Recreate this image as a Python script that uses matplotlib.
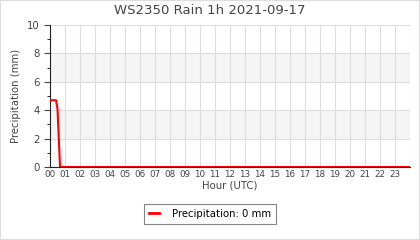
import numpy as np
import matplotlib
matplotlib.use("Agg")
import matplotlib.pyplot as plt
from matplotlib.patches import Rectangle

# rain readings (hours since midnight, mm)
hours = [0.0, 0.4, 0.5, 0.67, 24.0]
precip = [4.7, 4.7, 4.1, 0.0, 0.0]
hour_labels = [f"{h:02d}" for h in range(24)] + [""]
title = "WS2350 Rain 1h 2021-09-17"
legend_label = "Precipitation: 0 mm"

fig = plt.figure(figsize=(4.2, 2.4), dpi=100)
ax = fig.add_axes([50 / 420, 73 / 240, 360 / 420, 142 / 240])

# alternating bands
for lo in (2, 6):
    ax.axhspan(lo, lo + 2, color="#f5f5f5", zorder=0)

ax.plot(hours, precip, color="#ff0000", lw=1.5, label=legend_label, zorder=3)

ax.set_xlim(0, 24)
ax.set_ylim(0, 10)
ax.set_xticks(range(25))
ax.set_xticklabels(hour_labels, fontsize=6.3, color="#444444")
ax.set_yticks(range(0, 11, 2))
ax.set_yticks(range(1, 10, 2), minor=True)
ax.tick_params(axis="y", labelsize=7.3, colors="#444444", length=4, width=0.8)
ax.tick_params(axis="y", which="minor", length=2)
ax.tick_params(axis="x", which="both", length=0, pad=2)
ax.grid(True, which="major", color="#dddddd", lw=0.8)
ax.set_axisbelow(True)

for s in ("top", "right"):
    ax.spines[s].set_visible(False)
for s in ("left", "bottom"):
    ax.spines[s].set_color("#222222")
    ax.spines[s].set_linewidth(0.8)

fig.text(0.5, 1 - 11 / 240, title, fontsize=9.5, color="#444444",
         ha="center", va="center")
ax.set_xlabel("Hour (UTC)", fontsize=7.3, color="#444444", labelpad=1)
ax.set_ylabel("Precipitation (mm)", fontsize=7.3, color="#444444", labelpad=4)

leg = fig.legend(loc="center", bbox_to_anchor=(0.5, 1 - 214 / 240), fontsize=7.3,
                 frameon=True, fancybox=False, handlelength=1, borderpad=0.5,
                 handletextpad=1.2)
leg.get_frame().set_edgecolor("#666666")
leg.get_frame().set_linewidth(0.8)
for h in leg.get_lines():
    h.set_linewidth(2)

fig.patches.append(Rectangle((0, 0), 1, 1, transform=fig.transFigure,
                             fill=False, edgecolor="#dddddd", lw=1.5))

fig.savefig("out.png", dpi=100)
